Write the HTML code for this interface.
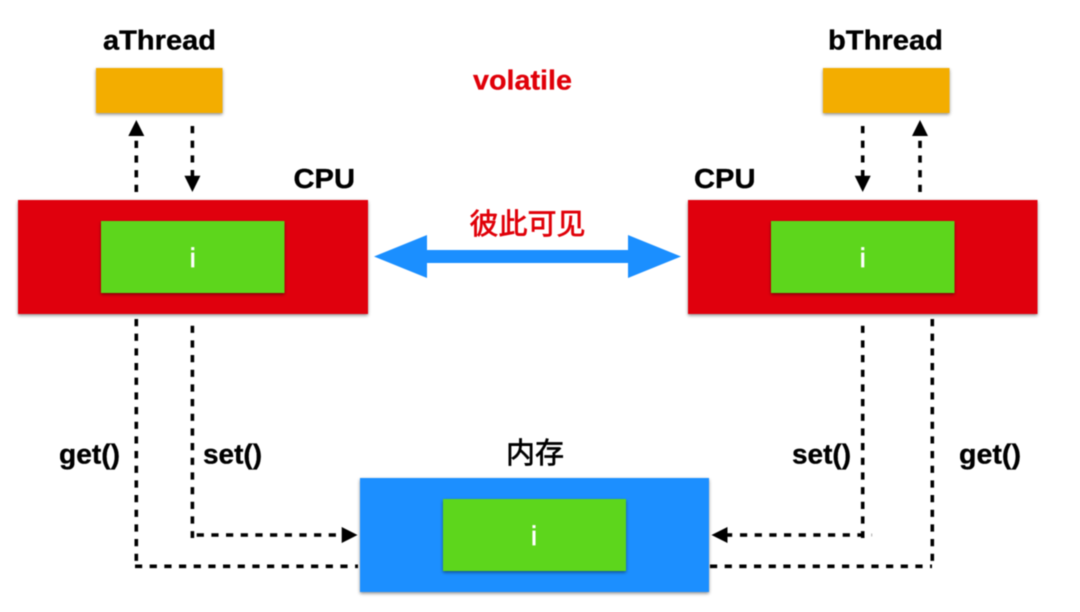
<!DOCTYPE html>
<html>
<head>
<meta charset="utf-8">
<style>
html,body{margin:0;padding:0;background:#fff;width:1080px;height:612px;overflow:hidden}
svg{display:block;filter:blur(0.4px)}
text{font-family:"Liberation Sans","Noto Sans CJK SC",sans-serif}
.b{font-weight:700;fill:#000;stroke:#000;stroke-width:.35;font-size:28px}
.c{font-weight:400;fill:#000;stroke:#000;stroke-width:.65;font-size:29px}
.r{font-weight:700;fill:#e00009;stroke:#e00009;stroke-width:.3}
.rc{font-weight:400;fill:#e00009;stroke:#e00009;stroke-width:.7}
.i{fill:#fff;stroke:#fff;stroke-width:.7;font-size:27px;text-anchor:middle}
.d{stroke:#000;stroke-width:3.6;fill:none;stroke-dasharray:7.2 7.47}
</style>
</head>
<body>
<svg width="1080" height="612" viewBox="0 0 1080 612" xmlns="http://www.w3.org/2000/svg">
<defs>
<filter id="s" x="-5%" y="-10%" width="110%" height="125%"><feDropShadow dx="0" dy="1.500" stdDeviation="1.500" flood-color="#000" flood-opacity="0.45"/></filter>
</defs>
<rect width="1080" height="612" fill="#fff"/>

<rect x="96" y="68" width="126.500" height="45" fill="#f3ad00" filter="url(#s)"/>
<rect x="823" y="68" width="126.500" height="45" fill="#f3ad00" filter="url(#s)"/>

<rect x="18" y="200" width="350" height="114" fill="#e00009" filter="url(#s)"/>
<rect x="101" y="221" width="183.500" height="72" fill="#5dd61b" filter="url(#s)"/>
<rect x="688" y="200" width="349.500" height="114" fill="#e00009" filter="url(#s)"/>
<rect x="771" y="221" width="183.500" height="72" fill="#5dd61b" filter="url(#s)"/>

<rect x="360" y="478" width="349" height="114" fill="#1b8fff" filter="url(#s)"/>
<rect x="443" y="499" width="183" height="72" fill="#5dd61b" filter="url(#s)"/>

<polygon points="374,256.500 427,235 427,250 628,250 628,235 681,256.500 628,278 628,263 427,263 427,278" fill="#1b8fff"/>

<g class="d">
<path d="M136.300 192V140.700"/>
<path d="M192.400 126V177"/>
<path d="M862.700 126V177"/>
<path d="M920 192V140.700"/>
<path d="M136.300 319V561"/>
<path d="M192.400 325.700V538"/>
<path d="M862.700 325.700V538"/>
<path d="M932.300 319V561"/>
<path d="M135 566.300H358"/>
<path d="M196.700 535H342"/>
<path d="M740 535H862"/>
<path d="M710 566.300H932"/>
<path d="M725 535H732.200" stroke-dasharray="none"/>
</g>
<rect x="871.200" y="533.500" width="1" height="3" fill="#aaa"/>

<g fill="#000">
<polygon points="136.300,120 128.300,136 144.300,136"/>
<polygon points="920,120 912,136 928,136"/>
<polygon points="192.400,192 184.400,175.700 200.400,175.700"/>
<polygon points="862.700,192 854.700,175.700 870.700,175.700"/>
<polygon points="357.500,535 341.700,527 341.700,543"/>
<polygon points="711.500,535 727.500,527 727.500,543"/>
</g>

<text class="b" x="103" y="49.500" textLength="113" lengthAdjust="spacingAndGlyphs">aThread</text>
<text class="b" x="828" y="49.500" textLength="115" lengthAdjust="spacingAndGlyphs">bThread</text>
<text class="b" x="293.500" y="188" textLength="61.500" lengthAdjust="spacingAndGlyphs">CPU</text>
<text class="b" x="694" y="188" textLength="61.500" lengthAdjust="spacingAndGlyphs">CPU</text>
<text class="r" x="473" y="89.500" font-size="28" textLength="99" lengthAdjust="spacingAndGlyphs">volatile</text>
<text class="rc" x="469.500" y="234" font-size="29" textLength="116" lengthAdjust="spacingAndGlyphs">彼此可见</text>
<text class="b" x="59" y="463.500" textLength="61" lengthAdjust="spacingAndGlyphs">get()</text>
<text class="b" x="203" y="463.500" textLength="59" lengthAdjust="spacingAndGlyphs">set()</text>
<text class="b" x="792" y="463.500" textLength="59" lengthAdjust="spacingAndGlyphs">set()</text>
<text class="b" x="959" y="463.500" textLength="62" lengthAdjust="spacingAndGlyphs">get()</text>
<text class="c" x="506" y="463" textLength="58" lengthAdjust="spacingAndGlyphs">内存</text>

<text class="i" x="192.700" y="267">i</text>
<text class="i" x="862.700" y="267">i</text>
<text class="i" x="534" y="545">i</text>
</svg>
</body>
</html>
